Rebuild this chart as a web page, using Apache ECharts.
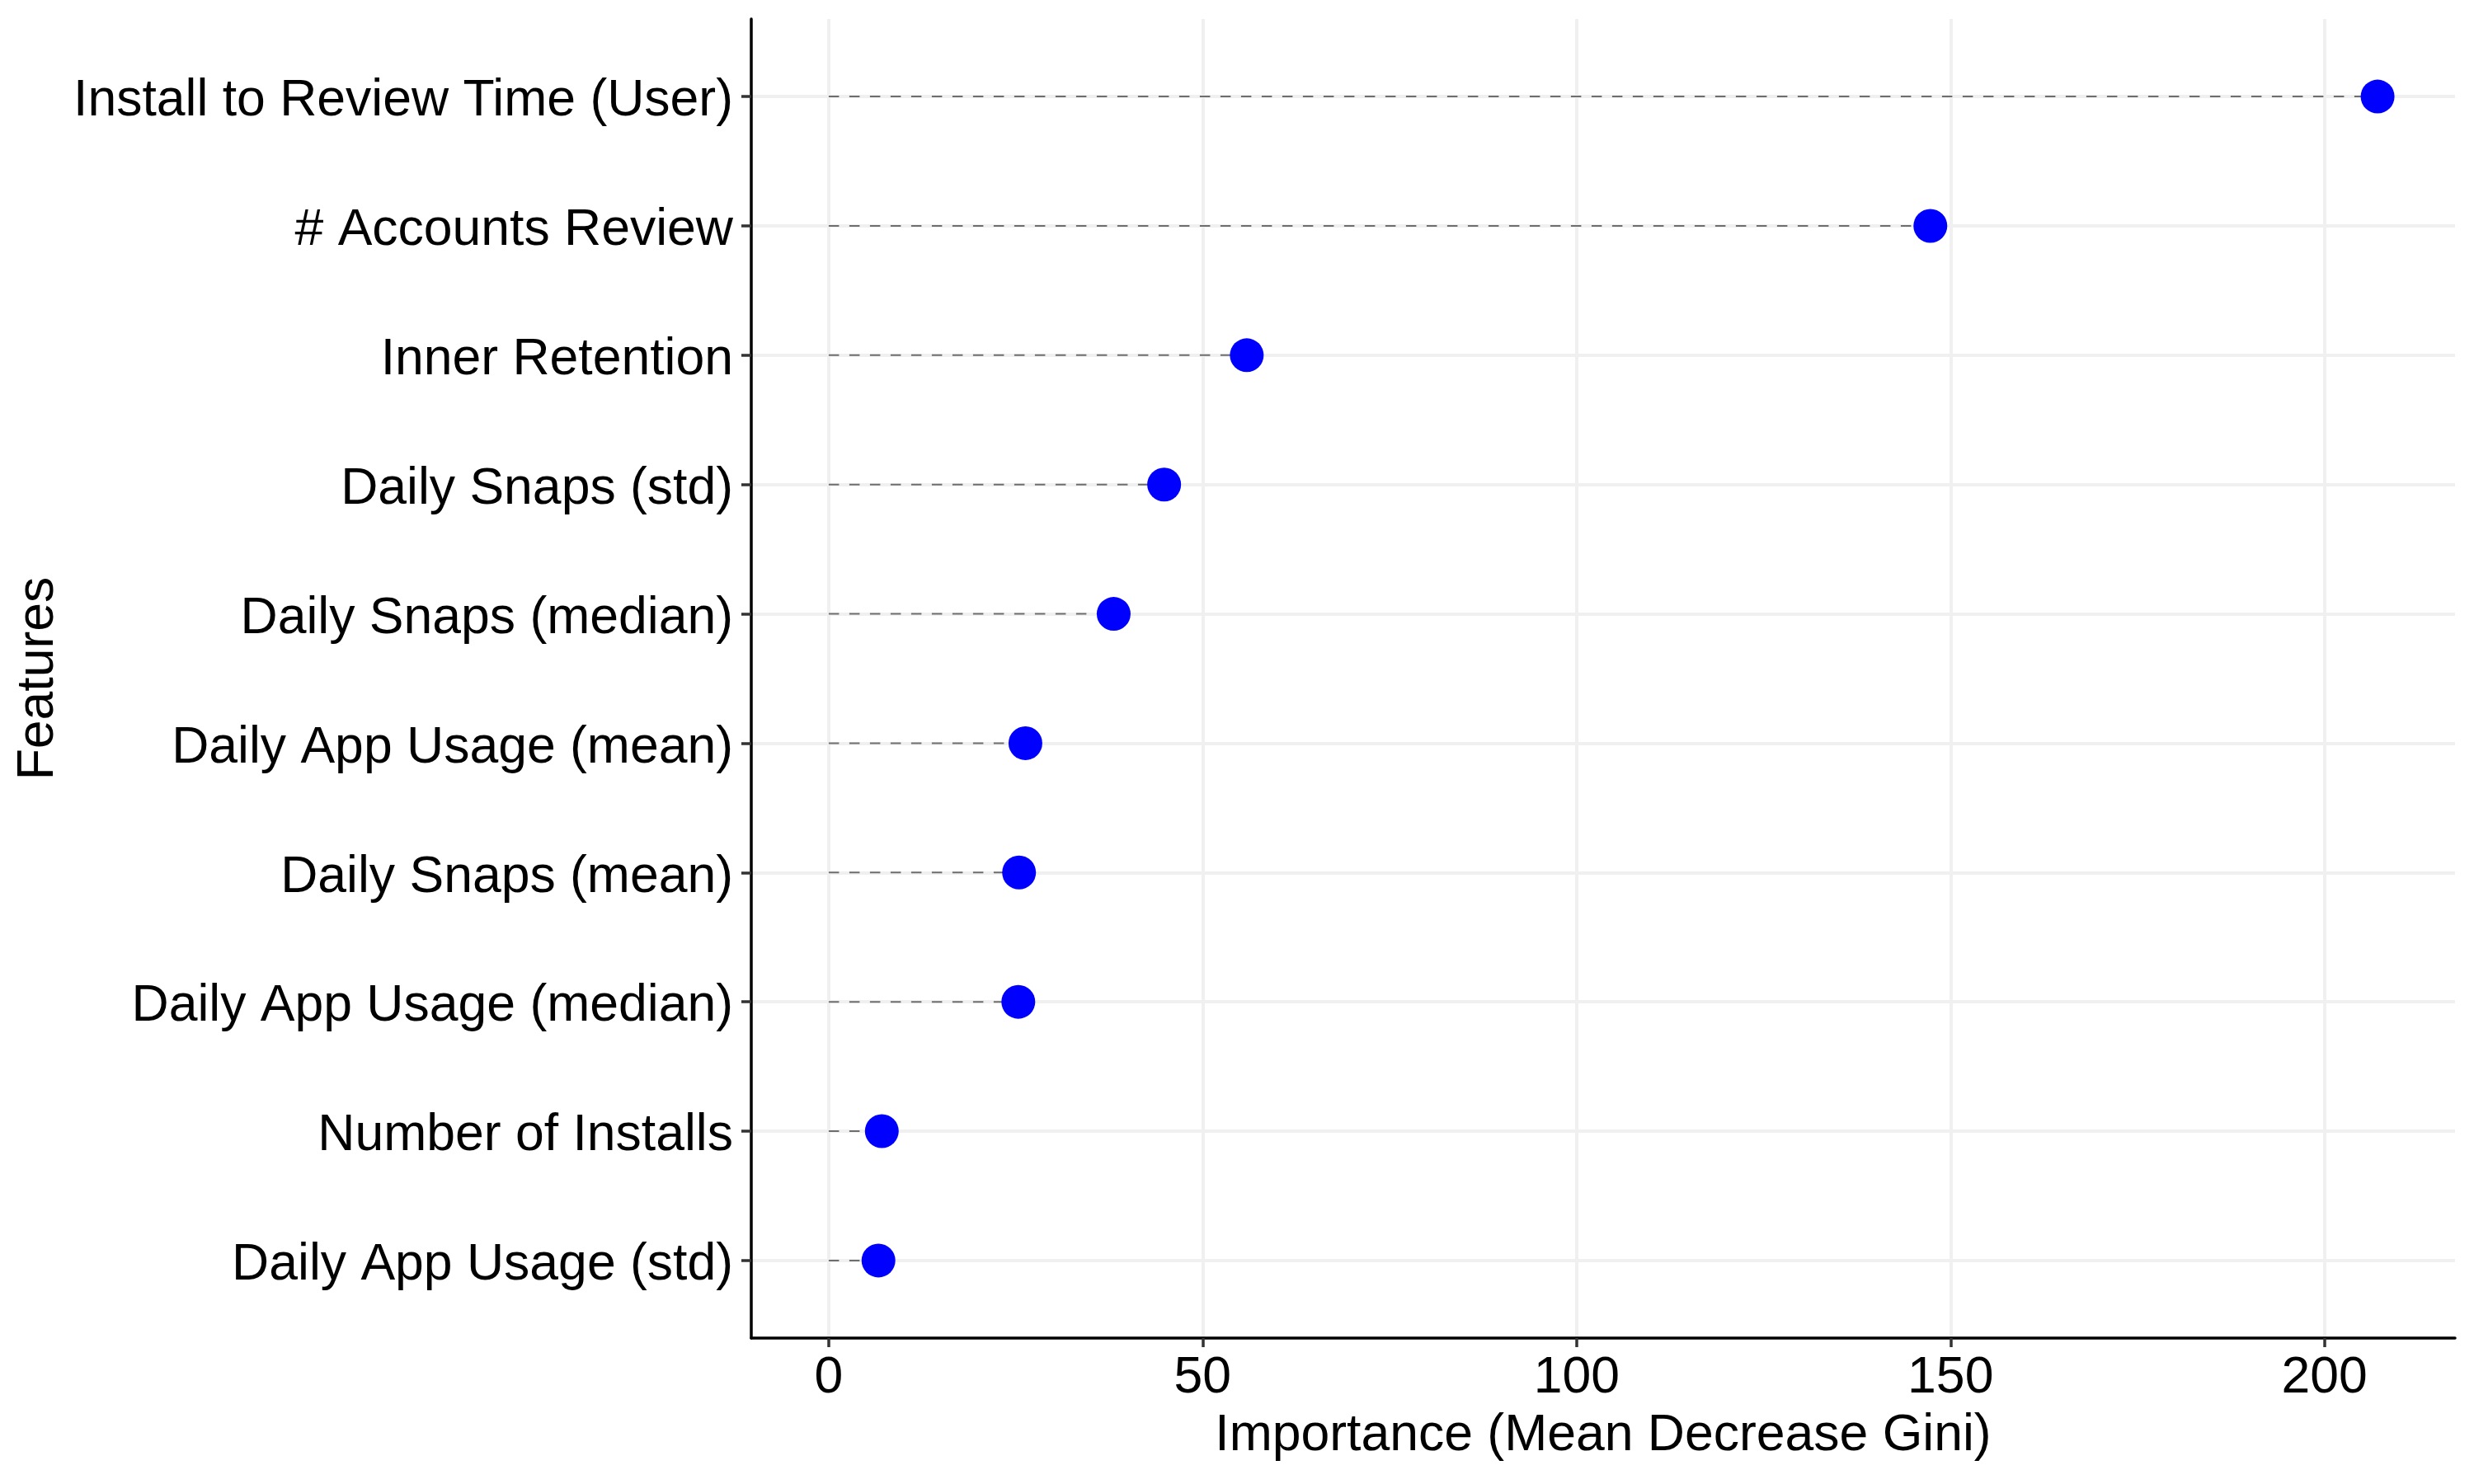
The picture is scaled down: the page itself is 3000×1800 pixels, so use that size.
<!DOCTYPE html>
<html>
<head>
<meta charset="utf-8">
<script src="https://cdn.jsdelivr.net/npm/echarts@6/dist/echarts.min.js"></script>
<style>
  html, body { margin: 0; padding: 0; background: #fff; }
  #chart { width: 3000px; height: 1800px; }
</style>
</head>
<body>
<div id="chart"></div>
<script>
// Data (top to bottom as drawn)
const categories = [
  'Install to Review Time (User)',
  '# Accounts Review',
  'Inner Retention',
  'Daily Snaps (std)',
  'Daily Snaps (median)',
  'Daily App Usage (mean)',
  'Daily Snaps (mean)',
  'Daily App Usage (median)',
  'Number of Installs',
  'Daily App Usage (std)'
];
const importance = [207.1, 147.3, 55.9, 44.85, 38.1, 26.3, 25.45, 25.35, 7.1, 6.65];
const xTicks = [0, 50, 100, 150, 200];

const xAxisTitle = 'Importance (Mean Decrease Gini)';
const yAxisTitle = 'Features';

const maxV = Math.max.apply(null, importance);
const xMin = -0.05 * maxV;
const xMax = 1.05 * maxV;
const catIdx = categories.map((c, i) => i);
const points = importance.map((v, i) => [v, i]);

const FONT = '"Liberation Sans", Arial, Helvetica, sans-serif';
const FS = 62.5;

const chart = echarts.init(document.getElementById('chart'), null, { renderer: 'canvas' });
chart.setOption({
  animation: false,
  backgroundColor: '#ffffff',
  grid: {
    left: 911, right: 23, top: 23, bottom: 177,
    containLabel: false,
    outerBoundsMode: 'none'
  },
  xAxis: {
    type: 'value',
    min: xMin,
    max: xMax,
    name: xAxisTitle,
    nameLocation: 'middle',
    nameGap: 87,
    nameTextStyle: { fontFamily: FONT, fontSize: FS, color: '#000' },
    axisLine: { show: true, onZero: false, lineStyle: { color: '#000', width: 3.5 } },
    axisTick: { show: true, length: 11, customValues: xTicks, lineStyle: { color: '#333', width: 3.5 } },
    axisLabel: {
      show: true, customValues: xTicks, margin: 17,
      fontFamily: FONT, fontSize: FS, color: '#000',
      formatter: v => String(v)
    },
    splitLine: { show: true, lineStyle: { color: '#f0f0f0', width: 4 } }
  },
  yAxis: {
    type: 'value',
    inverse: true,
    min: -0.6,
    max: categories.length - 1 + 0.6,
    name: yAxisTitle,
    nameLocation: 'middle',
    nameGap: 819,
    nameRotate: 90,
    nameTextStyle: { fontFamily: FONT, fontSize: FS, color: '#000' },
    axisLine: { show: true, onZero: false, lineStyle: { color: '#000', width: 3.5 } },
    axisTick: { show: true, length: 12, customValues: catIdx, lineStyle: { color: '#333', width: 3.5 } },
    axisLabel: {
      show: true, customValues: catIdx, margin: 22,
      verticalAlign: 'top', lineHeight: 12,
      fontFamily: FONT, fontSize: FS, color: '#000',
      formatter: v => categories[Math.round(v)] || ''
    },
    splitLine: { show: true, lineStyle: { color: '#f0f0f0', width: 4 } }
  },
  series: [
    {
      type: 'custom',
      name: 'segments',
      data: points,
      encode: { x: 0, y: 1 },
      z: 2,
      silent: true,
      renderItem: function (params, api) {
        const y = api.value(1);
        const p0 = api.coord([0, y]);
        const p1 = api.coord([api.value(0), y]);
        return {
          type: 'line',
          shape: { x1: p0[0], y1: p0[1], x2: p1[0], y2: p1[1] },
          style: { stroke: '#6e6e6e', lineWidth: 2, lineDash: [12.5, 12.5] }
        };
      }
    },
    {
      type: 'scatter',
      name: 'importance',
      data: points,
      symbol: 'circle',
      symbolSize: 41,
      z: 3,
      itemStyle: { color: '#0000ff', opacity: 1 }
    }
  ]
});
</script>
</body>
</html>
